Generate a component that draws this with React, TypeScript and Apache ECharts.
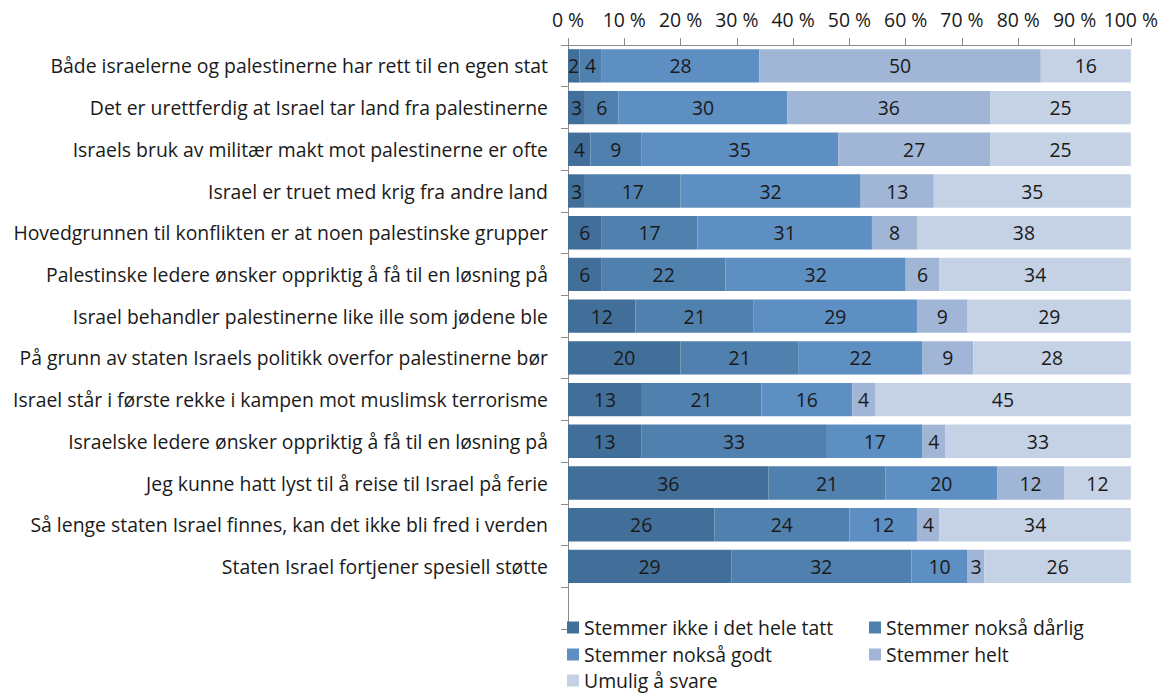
import React, { useEffect, useRef } from "react";
import * as echarts from "echarts";

const categories = [
  "Både israelerne og palestinerne har rett til en egen stat",
  "Det er urettferdig at Israel tar land fra palestinerne",
  "Israels bruk av militær makt mot palestinerne er ofte",
  "Israel er truet med krig fra andre land",
  "Hovedgrunnen til konflikten er at noen palestinske grupper",
  "Palestinske ledere ønsker oppriktig å få til en løsning på",
  "Israel behandler palestinerne like ille som jødene ble",
  "På grunn av staten Israels politikk overfor palestinerne bør",
  "Israel står i første rekke i kampen mot muslimsk terrorisme",
  "Israelske ledere ønsker oppriktig å få til en løsning på",
  "Jeg kunne hatt lyst til å reise til Israel på ferie",
  "Så lenge staten Israel finnes, kan det ikke bli fred i verden",
  "Staten Israel fortjener spesiell støtte",
  "",
];

const seriesNames = [
  "Stemmer ikke i det hele tatt",
  "Stemmer nokså dårlig",
  "Stemmer nokså godt",
  "Stemmer helt",
  "Umulig å svare",
];

const ikkeIDetHeleTatt = [2, 3, 4, 3, 6, 6, 12, 20, 13, 13, 36, 26, 29];
const noksaDarlig = [4, 6, 9, 17, 17, 22, 21, 21, 21, 33, 21, 24, 32];
const noksaGodt = [28, 30, 35, 32, 31, 32, 29, 22, 16, 17, 20, 12, 10];
const helt = [50, 36, 27, 13, 8, 6, 9, 9, 4, 4, 12, 4, 3];
const umulig = [16, 25, 25, 35, 38, 34, 29, 28, 45, 33, 12, 34, 26];

const colors = ["#426F99", "#5080AD", "#5D8FC2", "#A1B5D6", "#C5D2E6"];

const FONT = "'Open Sans'";
const FS = 19.4;

export default function App() {
  const ref = useRef<HTMLDivElement>(null);
  useEffect(() => {
    if (!ref.current) return;
    const chart = echarts.init(ref.current, null, { renderer: "svg" });
    const all = [ikkeIDetHeleTatt, noksaDarlig, noksaGodt, helt, umulig];
    const totals = ikkeIDetHeleTatt.map((_, i) =>
      all.reduce((s, arr) => s + arr[i], 0)
    );
    const series = all.map((arr, si) => ({
      name: seriesNames[si],
      type: "bar",
      stack: "total",
      barCategoryGap: "20%",
      itemStyle: { color: colors[si] },
      label: {
        show: true,
        position: "inside",
        color: "#1a1a1a",
        fontFamily: FONT,
        fontSize: FS,
        formatter: (p: any) => (p.data && p.data.raw != null ? String(p.data.raw) : ""),
      },
      data: arr.map((v, i) => ({ value: (v / totals[i]) * 100, raw: v })),
    }));

    const legendPos = [
      { left: 567, top: 618 },
      { left: 869, top: 618 },
      { left: 567, top: 645 },
      { left: 869, top: 645 },
      { left: 567, top: 671 },
    ];

    chart.setOption({
      animation: false,
      color: colors,
      grid: { left: 568, right: 30, top: 45, height: 584, containLabel: false },
      xAxis: {
        type: "value",
        position: "top",
        min: 0,
        max: 100,
        interval: 10,
        axisLine: { show: true, lineStyle: { color: "#8a8a8a" } },
        axisTick: { show: true, length: 7, lineStyle: { color: "#8a8a8a" } },
        splitLine: { show: false },
        axisLabel: {
          formatter: "{value} %",
          color: "#1a1a1a",
          fontFamily: FONT,
          fontSize: FS,
          margin: 16,
        },
      },
      yAxis: {
        type: "category",
        inverse: true,
        data: categories,
        axisLine: { show: true, lineStyle: { color: "#8a8a8a" } },
        axisTick: { show: true, length: 7, alignWithLabel: false, lineStyle: { color: "#8a8a8a" } },
        axisLabel: {
          color: "#1a1a1a",
          fontFamily: FONT,
          fontSize: FS,
          margin: 20,
          interval: 0,
        },
      },
      legend: seriesNames.map((n, i) => ({
        data: [n],
        left: legendPos[i].left,
        top: legendPos[i].top,
        icon: "rect",
        itemWidth: 12,
        itemHeight: 12,
        padding: 0,
        textStyle: { color: "#1a1a1a", fontFamily: FONT, fontSize: FS },
      })),
      series,
    });
    return () => chart.dispose();
  }, []);
  return (
    <div
      ref={ref}
      style={{ position: "fixed", left: 0, top: 0, width: 1161, height: 693, background: "#fff" }}
    />
  );
}
